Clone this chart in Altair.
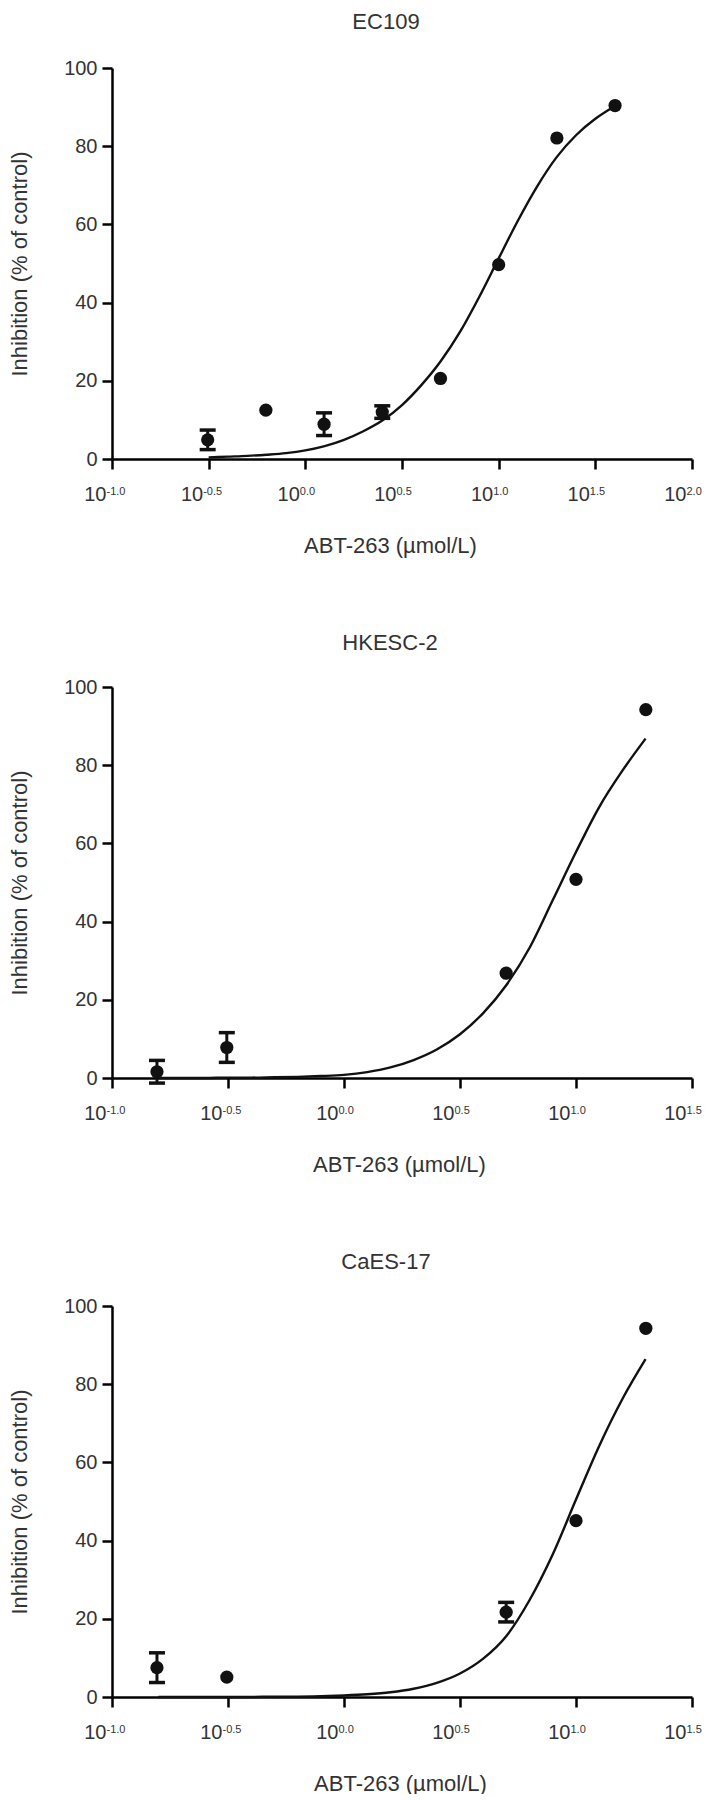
import altair as alt
import pandas as pd

FONT = "Liberation Sans"
TEXT_COLOR = "#333333"
INK = "#111111"

X_TITLE = "ABT-263 (µmol/L)"
Y_TITLE = "Inhibition (% of control)"
Y_TICKS = [0, 20, 40, 60, 80, 100]

# ---------------- EC109 ----------------
EC109_TITLE = "EC109"
EC109_TICK_EXP = [-1.0, -0.5, 0.0, 0.5, 1.0, 1.5, 2.0]
EC109_CONC = [0.3125, 0.625, 1.25, 2.5, 5, 10, 20, 40]
EC109_MEAN = [4.9, 12.5, 8.9, 12.0, 20.6, 49.7, 82.1, 90.4]
EC109_ERR = [2.5, 0, 2.9, 1.6, 0, 0, 0, 0]
EC109_CURVE_LOGX = [-0.5, -0.4, -0.3, -0.2, -0.1, 0.0, 0.1, 0.2, 0.3, 0.4, 0.5,
                    0.6, 0.7, 0.8, 0.9, 1.0, 1.1, 1.2, 1.3, 1.4, 1.5, 1.6]
EC109_CURVE_Y = [0.4, 0.6, 0.8, 1.1, 1.5, 2.2, 3.3, 4.9, 7.1, 9.9, 13.8,
                 18.9, 25.0, 32.5, 41.5, 51.3, 61.0, 69.8, 77.2, 82.8, 87.0, 90.2]

# ---------------- HKESC-2 ----------------
HKESC_TITLE = "HKESC-2"
HKESC_TICK_EXP = [-1.0, -0.5, 0.0, 0.5, 1.0, 1.5]
HKESC_CONC = [0.15625, 0.3125, 5, 10, 20]
HKESC_MEAN = [1.6, 7.8, 26.8, 50.8, 94.2]
HKESC_ERR = [2.9, 3.8, 0, 0, 0]
HKESC_CURVE_LOGX = [-0.8, -0.7, -0.6, -0.5, -0.4, -0.3, -0.2, -0.1, 0.0, 0.1, 0.2,
                    0.3, 0.4, 0.5, 0.6, 0.7, 0.8, 0.9, 1.0, 1.1, 1.2, 1.3]
HKESC_CURVE_Y = [0.0, 0.0, 0.0, 0.1, 0.1, 0.2, 0.3, 0.5, 0.8, 1.5, 2.7,
                 4.6, 7.3, 11.2, 16.6, 23.8, 33.3, 45.5, 57.8, 69.3, 78.6, 86.8]

# ---------------- CaES-17 ----------------
CAES_TITLE = "CaES-17"
CAES_TICK_EXP = [-1.0, -0.5, 0.0, 0.5, 1.0, 1.5]
CAES_CONC = [0.15625, 0.3125, 5, 10, 20]
CAES_MEAN = [7.5, 5.1, 21.7, 45.1, 94.3]
CAES_ERR = [3.8, 0, 2.5, 0, 0]
CAES_CURVE_LOGX = [-0.8, -0.7, -0.6, -0.5, -0.4, -0.3, -0.2, -0.1, 0.0, 0.1, 0.2,
                   0.3, 0.4, 0.5, 0.6, 0.7, 0.8, 0.9, 1.0, 1.1, 1.2, 1.3]
CAES_CURVE_Y = [0.0, 0.0, 0.0, 0.0, 0.0, 0.1, 0.1, 0.2, 0.4, 0.7, 1.2,
                2.1, 3.6, 6.0, 9.8, 15.6, 24.8, 36.5, 50.5, 64.2, 76.2, 86.4]


def panel(title, conc, mean, err, clogx, cy, tick_exp, title_dx, title_offset,
          xtitle_x):
    pts = pd.DataFrame({"conc": conc, "mean": mean, "err": err})
    pts["lo"] = pts["mean"] - pts["err"]
    pts["hi"] = pts["mean"] + pts["err"]
    bars = pts[pts["err"] > 0].reset_index(drop=True)
    curve = pd.DataFrame({"conc": [10 ** v for v in clogx], "inh": cy})
    ticks = [10 ** e for e in tick_exp]

    xscale = alt.Scale(type="log", domain=[ticks[0], ticks[-1]], nice=False)
    yscale = alt.Scale(domain=[0, 100], nice=False)

    main_x_axis = alt.Axis(
        orient="bottom", values=ticks, labelExpr="'10'", labelAlign="right",
        labelOffset=-6, labelFontSize=20, labelPadding=15, labelColor=TEXT_COLOR,
        labelFlush=False, labelOverlap=False,
        tickSize=10, tickWidth=2.5, tickColor="black",
        domainWidth=2.5, domainColor="black", grid=False,
        title=X_TITLE, titleFontSize=22, titleFontWeight="normal",
        titleColor=TEXT_COLOR, titlePadding=31, titleX=xtitle_x,
    )
    exp_x_axis = alt.Axis(
        orient="bottom", values=ticks,
        labelExpr="replace(format(log(datum.value) / LN10, '.1f'), '\u2212', '-')",
        labelAlign="left", labelOffset=-6, labelFontSize=11, labelPadding=16,
        labelColor=TEXT_COLOR, labelFlush=False, labelOverlap=False,
        tickSize=10, tickOpacity=0, domain=False, grid=False, title=None,
    )
    y_axis = alt.Axis(
        orient="left", values=Y_TICKS, tickSize=10, tickWidth=2.5, tickColor="black",
        domainWidth=2.5, domainColor="black", grid=False,
        labelFontSize=20, labelPadding=5, labelColor=TEXT_COLOR,
        title=Y_TITLE, titleFontSize=22, titleFontWeight="normal",
        titleColor=TEXT_COLOR, titlePadding=32,
    )

    line = alt.Chart(curve).mark_line(
        color=INK, strokeWidth=2.4, interpolate="monotone"
    ).encode(
        x=alt.X("conc:Q", scale=xscale, axis=main_x_axis),
        y=alt.Y("inh:Q", scale=yscale, axis=y_axis),
    )
    errs = alt.Chart(bars).mark_errorbar(
        ticks={"size": 16, "thickness": 3.5, "color": INK, "opacity": 1},
        rule={"color": INK, "strokeWidth": 3, "opacity": 1},
        color=INK,
    ).encode(
        x=alt.X("conc:Q", scale=xscale, axis=None),
        y=alt.Y("lo:Q", scale=yscale, axis=y_axis),
        y2="hi:Q",
    )
    dots = alt.Chart(pts).mark_circle(size=175, color=INK, opacity=1).encode(
        x=alt.X("conc:Q", scale=xscale, axis=exp_x_axis),
        y=alt.Y("mean:Q", scale=yscale, axis=y_axis),
    )
    return alt.layer(line, errs, dots).resolve_axis(x="independent").properties(
        width=580, height=391,
        title=alt.TitleParams(text=title, fontSize=22, fontWeight="normal",
                              color=TEXT_COLOR, offset=title_offset, dx=title_dx,
                              anchor="middle"),
    )


p1 = panel(EC109_TITLE, EC109_CONC, EC109_MEAN, EC109_ERR, EC109_CURVE_LOGX,
           EC109_CURVE_Y, EC109_TICK_EXP, -16, 24, 278)
p2 = panel(HKESC_TITLE, HKESC_CONC, HKESC_MEAN, HKESC_ERR, HKESC_CURVE_LOGX,
           HKESC_CURVE_Y, HKESC_TICK_EXP, -12, 22, 287)
p3 = panel(CAES_TITLE, CAES_CONC, CAES_MEAN, CAES_ERR, CAES_CURVE_LOGX,
           CAES_CURVE_Y, CAES_TICK_EXP, -16, 22, 288)

chart = alt.vconcat(p1, p2, p3, spacing=76).properties(
    padding={"top": 3, "left": 0, "right": 0, "bottom": 0}
).configure(font=FONT).configure_view(stroke=None)

chart.save("out.html", embed_options={"renderer": "svg", "actions": False})
